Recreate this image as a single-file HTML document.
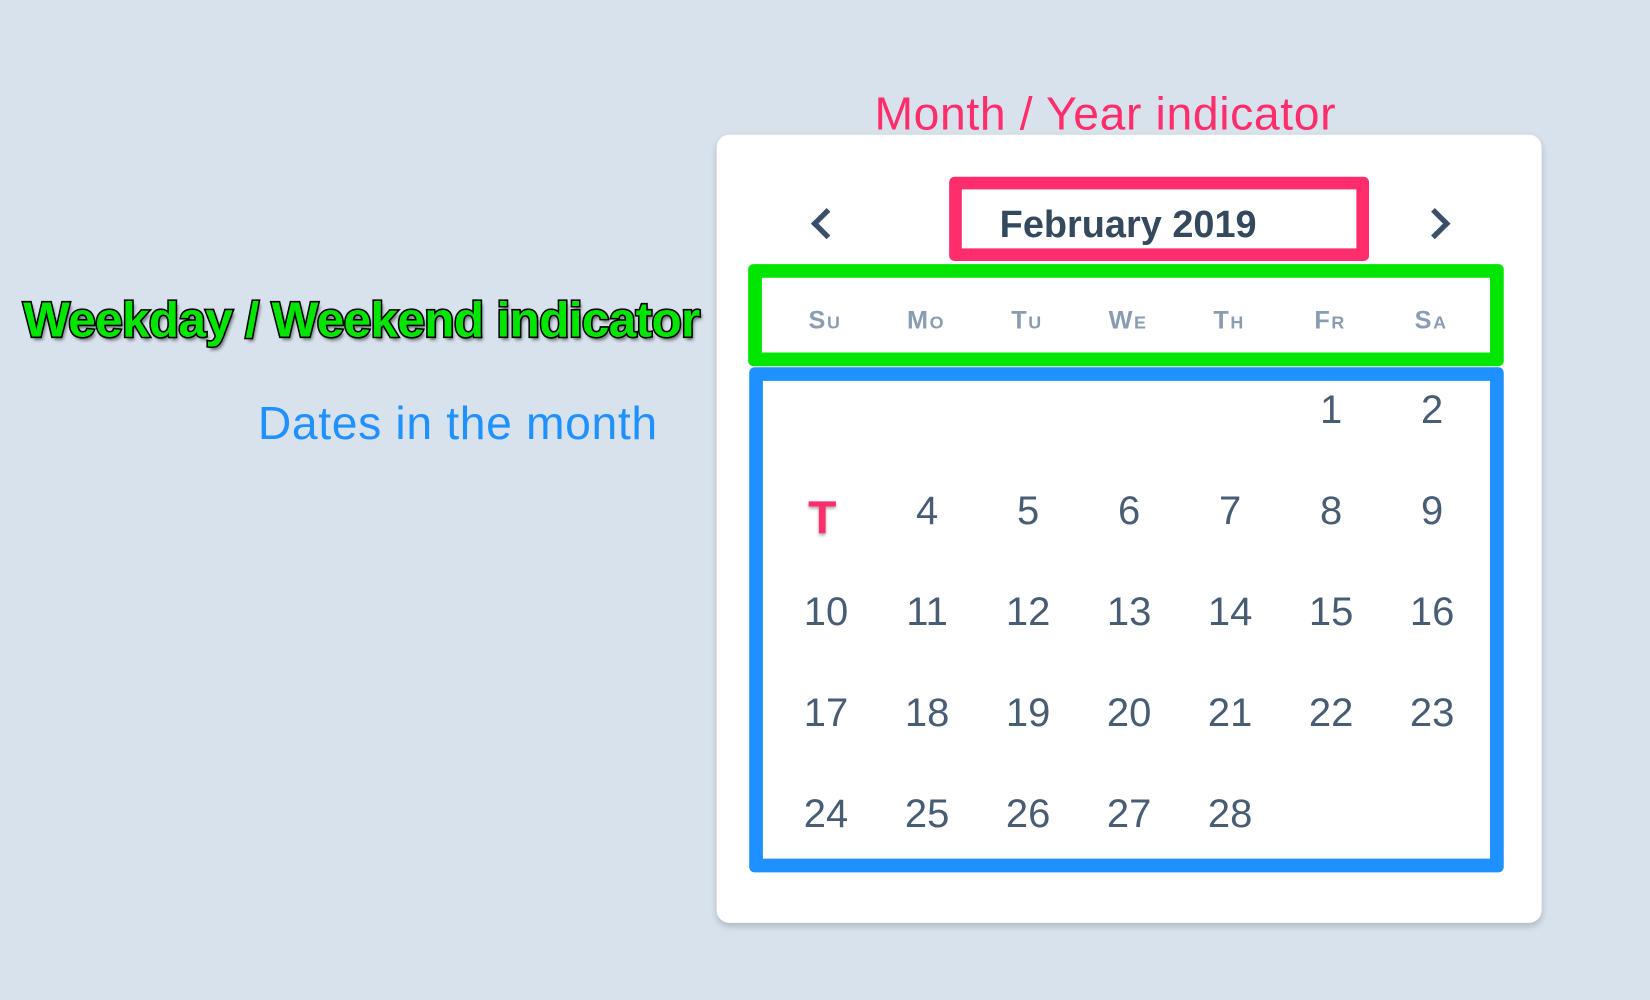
<!DOCTYPE html>
<html><head><meta charset="utf-8"><style>
html,body{margin:0;padding:0;width:1650px;height:1000px;overflow:hidden;background:#d8e2ec;font-family:"Liberation Sans",sans-serif}
#w{position:absolute;left:0;top:0;width:1568px;height:950px;transform:scale(1.05230);transform-origin:0 0}
.a{position:absolute}
#card{left:681px;top:128px;width:784px;height:749px;background:#fff;border-radius:12px;box-shadow:0 3px 6px rgba(0,0,0,.18)}
.box{position:absolute;box-sizing:border-box;border-radius:5px}
.wd{position:absolute;top:291px;width:96px;text-align:center;font-weight:bold;color:#8a9cb2;font-size:24px;letter-spacing:1.5px;font-variant:small-caps}
.d{position:absolute;width:96px;text-align:center;color:#485c74;font-size:38px;line-height:40px}
.chev{position:absolute;width:16px;height:16px;border-left:5px solid #3a4f68;border-bottom:5px solid #3a4f68}
</style></head><body>
<div id="w">
<div class="a" id="card"></div>
<div class="a" style="left:831px;top:84px;font-size:44px;letter-spacing:0.6px;color:#ff2d6b;white-space:nowrap">Month / Year indicator</div>
<div class="a" style="left:22px;top:276px;font-size:47px;font-weight:bold;color:#00e600;-webkit-text-stroke:3px #000;paint-order:stroke fill;text-shadow:2px 3px 3px rgba(0,0,0,.5);white-space:nowrap;letter-spacing:-0.6px">Weekday / Weekend indicator</div>
<div class="a" style="left:245px;top:378px;font-size:44px;letter-spacing:0.6px;color:#1e90ff;white-space:nowrap">Dates in the month</div>
<div class="box" style="left:902px;top:168px;width:399px;height:80px;border:12px solid #ff2d6b"></div>
<div class="a" style="left:950px;top:192px;font-size:36px;font-weight:bold;color:#34495e;white-space:nowrap">February 2019</div>
<div class="chev" style="left:775px;top:202px;transform:rotate(45deg)"></div>
<div class="chev" style="left:1353px;top:202px;transform:rotate(-135deg)"></div>
<div class="box" style="left:711px;top:251px;width:718px;height:97px;border:13px solid #00e600"></div>
<div class="box" style="left:712px;top:349px;width:717px;height:480px;border:13px solid #1e90ff"></div>
<div id="cal"></div>
<div class="a" style="left:768px;top:468px;font-size:44px;font-weight:bold;color:#ff2d6b;-webkit-text-stroke:6px #fff;paint-order:stroke fill;text-shadow:0 2px 3px rgba(0,0,0,.35)">T</div>
</div>
<script>
const weekdays=['Su','Mo','Tu','We','Th','Fr','Sa'];
const firstDay=5;
const daysInMonth=28;
const cal=document.getElementById('cal');
weekdays.forEach((w,i)=>{const e=document.createElement('div');e.className='wd';e.style.left=(736+i*96)+'px';e.textContent=w;


cal.appendChild(e);});
for(let n=1;n<=daysInMonth;n++){const p=n-1+firstDay;const c=p%7,r=Math.floor(p/7);
const e=document.createElement('div');e.className='d';e.style.left=(737+c*96)+'px';e.style.top=(370+r*96)+'px';e.textContent=n;


if(n===3)e.style.visibility='hidden';
cal.appendChild(e);}
</script>
</body></html>
